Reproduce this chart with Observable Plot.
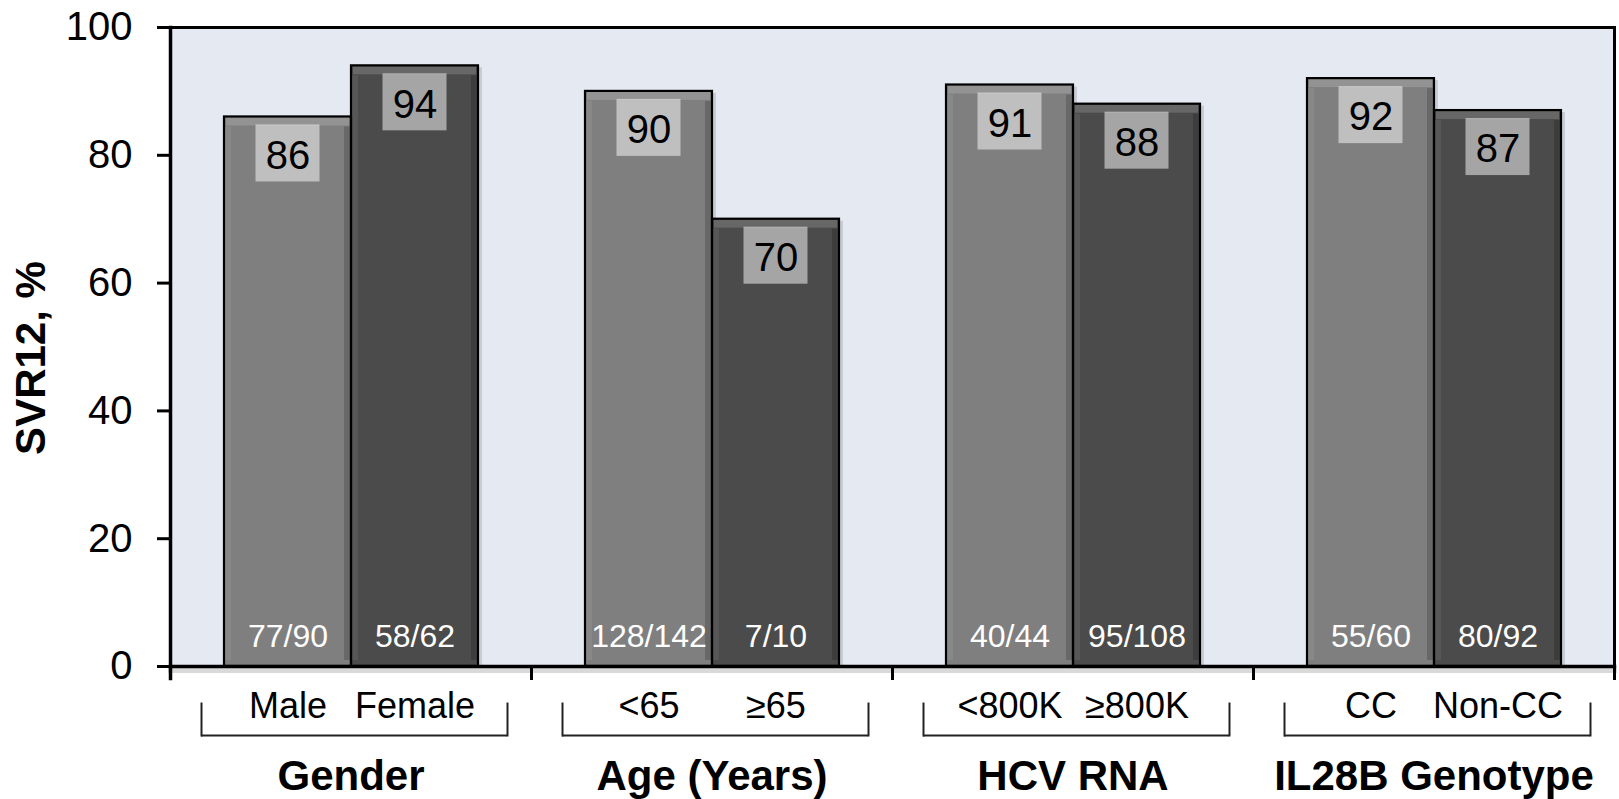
<!DOCTYPE html>
<html><head><meta charset="utf-8">
<script src="https://cdn.jsdelivr.net/npm/d3@7"></script>
<script src="https://cdn.jsdelivr.net/npm/@observablehq/plot@0.6"></script>
<style>html,body{margin:0;padding:0;background:#fff} #chart svg{display:block}</style>
</head><body><div id="chart"></div>
<script>
const groups = ["Gender", "Age (Years)", "HCV RNA", "IL28B Genotype"];
const subgroups = ["Male", "Female", "<65", "≥65", "<800K", "≥800K", "CC", "Non-CC"];
const svr = [86, 94, 90, 70, 91, 88, 92, 87];
const counts = ["77/90", "58/62", "128/142", "7/10", "40/44", "95/108", "55/60", "80/92"];
const yTicks = [0, 20, 40, 60, 80, 100];
const yLabel = "SVR12, %";
const slots = ["first", "second"];

const rows = subgroups.map((s, i) => ({
  group: groups[Math.floor(i / 2)],
  slot: slots[i % 2],
  sub: s,
  value: svr[i],
  n: counts[i]
}));

const font = "'Liberation Sans', Arial, Helvetica, sans-serif";
const base = {fx: "group", x: "slot"};

const chart = Plot.plot({
  width: 1619, height: 799,
  marginTop: 27, marginBottom: 133, marginLeft: 170, marginRight: 5,
  style: {fontFamily: font, background: "white", color: "black", overflow: "visible"},
  fx: {domain: groups, padding: 0, axis: null},
  x: {type: "band", domain: slots, paddingInner: 0, paddingOuter: 0.421, axis: null},
  y: {domain: [0, 100], axis: null},
  color: {domain: slots, range: ["#7f7f7f", "#4b4b4b"]},
  marks: [
    Plot.frame({facet: "super", fill: "#e4e9f2", stroke: null}),
    // axis shadow
    Plot.frame({facet: "super", anchor: "bottom", dy: 4, stroke: "#000", strokeOpacity: 0.15, strokeWidth: 5}),
    // bar shadows
    Plot.barY(rows, {...base, y: "value", dx: 4, dy: 2, fill: "#000", fillOpacity: 0.12}),
    // bars
    Plot.barY(rows, {...base, y: "value", fill: "slot"}),
    // bevel: top highlight
    Plot.barY(rows, {...base, y1: "value", y2: "value", insetTop: 1, insetBottom: -9, insetLeft: 2, insetRight: 2, fill: "#fff", fillOpacity: 0.16}),
    // bevel: left highlight
    Plot.barY(rows, {...base, y: "value", insetTop: 10, insetBottom: 6, insetLeft: 1, insetRight: 120, fill: "#fff", fillOpacity: 0.07}),
    // bevel: right shade
    Plot.barY(rows, {...base, y: "value", insetTop: 10, insetBottom: 6, insetLeft: 120, insetRight: 1, fill: "#000", fillOpacity: 0.18}),
    // outline
    Plot.barY(rows, {...base, y: "value", fill: "none", stroke: "#000", strokeWidth: 2.2}),
    // value label boxes
    Plot.barY(rows, {...base, y1: "value", y2: "value", insetTop: 8, insetBottom: -65, insetLeft: 31.5, insetRight: 31.5, fill: "#fff", fillOpacity: 0.5}),
    Plot.text(rows, {...base, y: "value", text: d => String(d.value), dy: 39, fontSize: 40, fill: "#000"}),
    // n labels
    Plot.text(rows, {...base, text: "n", frameAnchor: "bottom", lineAnchor: "middle", dy: -30, fontSize: 32, fill: "#fff"}),
    // frame lines
    Plot.frame({facet: "super", anchor: "top", stroke: "#000", strokeWidth: 3}),
    Plot.frame({facet: "super", anchor: "right", insetBottom: -12, stroke: "#000", strokeWidth: 3}),
    Plot.frame({facet: "super", anchor: "left", insetBottom: -12, stroke: "#000", strokeWidth: 3.5}),
    Plot.frame({anchor: "left", insetTop: 639, insetBottom: -12, stroke: "#000", strokeWidth: 3}),
    Plot.frame({facet: "super", anchor: "bottom", stroke: "#000", strokeWidth: 3.5}),
    // y axis
    Plot.axisY({ticks: yTicks, tickSize: 13, tickPadding: 25, fontSize: 40, label: null, strokeWidth: 3}),
    Plot.text([yLabel], {facet: "super", frameAnchor: "left", textAnchor: "middle", lineAnchor: "middle", rotate: -90, dx: -139, dy: 11, fontSize: 42, fontWeight: "bold", fill: "#000"}),
    // category labels
    Plot.text(rows, {...base, text: "sub", frameAnchor: "bottom", lineAnchor: "middle", dy: 39.5, fontSize: 36, fill: "#000"}),
    // brackets
    Plot.ruleY([0], {dy: 69, insetLeft: 31, insetRight: 24, stroke: "#222", strokeWidth: 2}),
    Plot.frame({anchor: "left", insetLeft: 31, insetTop: 676, insetBottom: -69, stroke: "#222", strokeWidth: 2}),
    Plot.frame({anchor: "right", insetRight: 24, insetTop: 676, insetBottom: -69, stroke: "#222", strokeWidth: 2}),
    // group titles
    Plot.text(groups, {fx: d => d, text: d => d, frameAnchor: "bottom", lineAnchor: "middle", dy: 110.5, fontSize: 42, fontWeight: "bold", fill: "#000"})
  ]
});
document.getElementById("chart").append(chart);
</script>
</body></html>
